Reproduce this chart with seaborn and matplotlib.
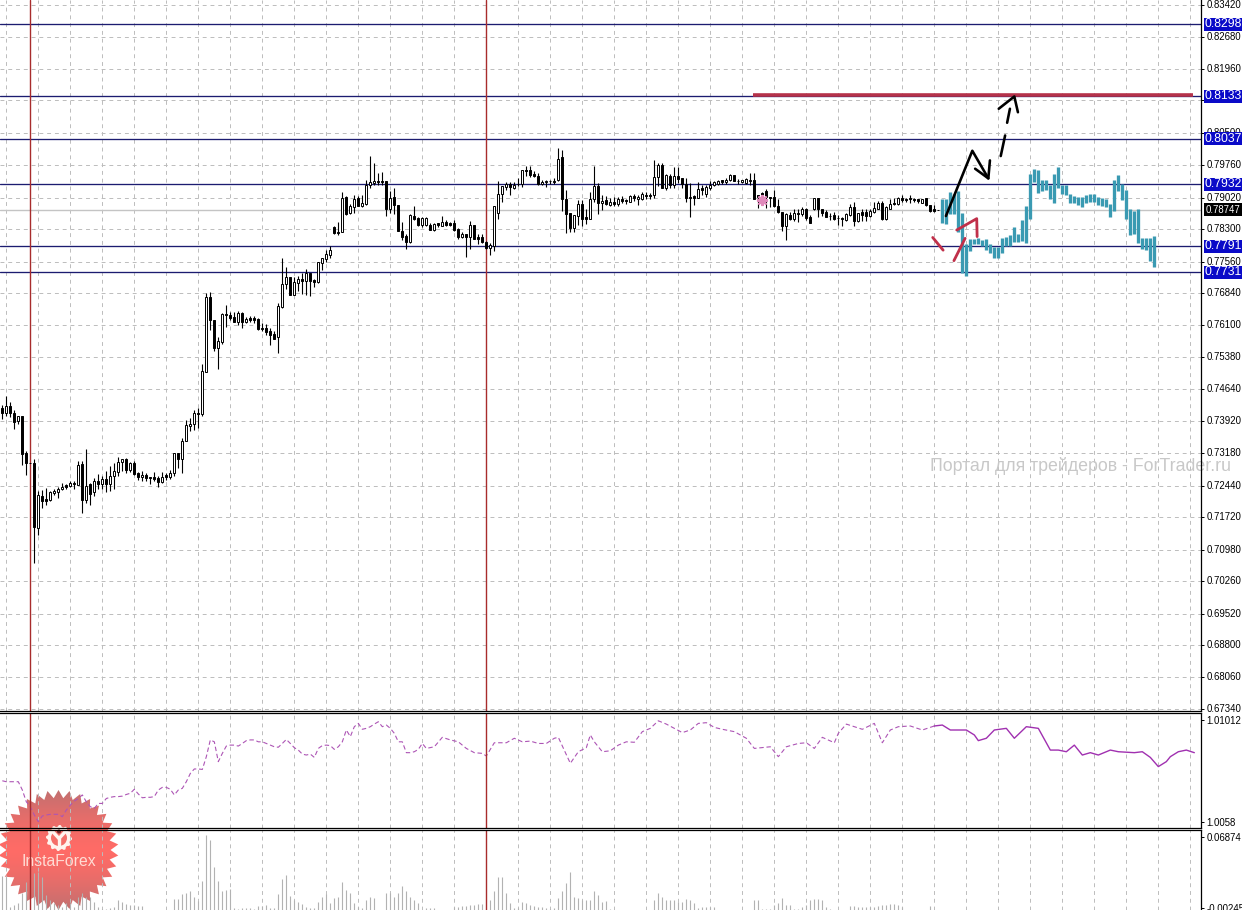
import numpy as np
import pandas as pd
import seaborn as sns
import matplotlib.pyplot as plt
from matplotlib.patches import Polygon, Rectangle, Circle
from matplotlib.transforms import blended_transform_factory, ScaledTranslation

# all prices in 1e-4 units, one entry per candle
candle_high = [
    7429, 7448, 7435, 7418, 7404, 7403, 7324, 7296, 7305, 7231,
    7234, 7239, 7232, 7237, 7242, 7251, 7249, 7254, 7254, 7300,
    7300, 7327, 7251, 7261, 7270, 7266, 7277, 7289, 7296, 7310,
    7306, 7307, 7299, 7300, 7275, 7278, 7272, 7263, 7275, 7266,
    7275, 7274, 7280, 7319, 7318, 7353, 7395, 7399, 7416, 7422,
    7521, 7684, 7686, 7623, 7584, 7638, 7657, 7641, 7641, 7644,
    7640, 7629, 7631, 7631, 7627, 7616, 7614, 7604, 7597, 7661,
    7765, 7744, 7720, 7720, 7723, 7729, 7740, 7730, 7717, 7754,
    7765, 7783, 7791, 7837, 7846, 7915, 7905, 7887, 7908, 7905,
    7908, 7943, 7997, 7981, 7959, 7961, 7939, 7916, 7925, 7886,
    7847, 7819, 7864, 7883, 7857, 7857, 7857, 7843, 7845, 7845,
    7860, 7852, 7846, 7851, 7832, 7823, 7819, 7848, 7840, 7820,
    7820, 7804, 7798, 7884, 7940, 7928, 7938, 7938, 7938, 7946,
    7966, 7975, 7975, 7962, 7959, 7942, 7942, 7943, 7946, 8016,
    8010, 7919, 7867, 7862, 7896, 7896, 7875, 7915, 7974, 7936,
    7908, 7905, 7902, 7904, 7904, 7905, 7898, 7907, 7911, 7909,
    7915, 7915, 7913, 7987, 7980, 7980, 7957, 7957, 7971, 7971,
    7947, 7946, 7936, 7908, 7937, 7930, 7930, 7940, 7940, 7942,
    7943, 7946, 7957, 7953, 7945, 7943, 7947, 7959, 7959, 7908,
    7915, 7921, 7903, 7919, 7898, 7870, 7867, 7870, 7877, 7877,
    7881, 7879, 7862, 7902, 7902, 7876, 7873, 7866, 7870, 7862,
    7858, 7867, 7887, 7892, 7867, 7875, 7877, 7875, 7892, 7895,
    7895, 7883, 7900, 7902, 7904, 7907, 7902, 7908, 7902, 7900,
    7900, 7901, 7886, 7885, 7874,
]
candle_top = [
    7422, 7427, 7427, 7410, 7404, 7403, 7318, 7296, 7296, 7223,
    7220, 7213, 7230, 7231, 7237, 7242, 7245, 7251, 7251, 7292,
    7293, 7243, 7247, 7254, 7254, 7260, 7260, 7266, 7277, 7299,
    7304, 7304, 7295, 7295, 7272, 7269, 7269, 7263, 7263, 7261,
    7264, 7268, 7274, 7318, 7318, 7347, 7382, 7386, 7410, 7410,
    7506, 7675, 7675, 7622, 7575, 7636, 7637, 7635, 7629, 7638,
    7638, 7625, 7627, 7628, 7625, 7605, 7604, 7597, 7591, 7655,
    7704, 7720, 7720, 7710, 7715, 7717, 7730, 7730, 7713, 7754,
    7763, 7774, 7782, 7834, 7824, 7902, 7904, 7883, 7898, 7901,
    7889, 7931, 7937, 7940, 7940, 7940, 7939, 7902, 7904, 7886,
    7826, 7814, 7863, 7861, 7855, 7855, 7855, 7839, 7842, 7843,
    7846, 7846, 7843, 7843, 7831, 7819, 7819, 7839, 7840, 7811,
    7811, 7801, 7793, 7884, 7910, 7928, 7933, 7933, 7930, 7934,
    7966, 7966, 7966, 7956, 7952, 7937, 7940, 7940, 7940, 7991,
    7994, 7899, 7866, 7862, 7887, 7887, 7857, 7900, 7928, 7928,
    7895, 7896, 7892, 7891, 7899, 7898, 7896, 7905, 7905, 7904,
    7911, 7908, 7908, 7948, 7976, 7976, 7953, 7951, 7951, 7951,
    7946, 7933, 7904, 7905, 7921, 7925, 7927, 7930, 7938, 7940,
    7942, 7942, 7954, 7953, 7941, 7942, 7944, 7943, 7942, 7908,
    7912, 7917, 7903, 7903, 7884, 7870, 7864, 7862, 7867, 7867,
    7877, 7877, 7858, 7901, 7901, 7875, 7869, 7861, 7862, 7856,
    7856, 7864, 7880, 7880, 7866, 7869, 7870, 7871, 7878, 7890,
    7890, 7881, 7887, 7889, 7902, 7902, 7899, 7901, 7900, 7898,
    7899, 7901, 7886, 7875, 7874,
]
candle_bottom = [
    7409, 7409, 7409, 7389, 7391, 7316, 7296, 7296, 7150, 7148,
    7209, 7209, 7211, 7228, 7230, 7236, 7242, 7243, 7247, 7246,
    7211, 7211, 7226, 7229, 7248, 7248, 7249, 7249, 7266, 7275,
    7298, 7280, 7280, 7271, 7263, 7263, 7261, 7262, 7260, 7252,
    7252, 7265, 7265, 7272, 7304, 7304, 7346, 7380, 7385, 7407,
    7407, 7503, 7622, 7558, 7559, 7573, 7634, 7628, 7619, 7617,
    7617, 7617, 7623, 7623, 7602, 7602, 7594, 7589, 7579, 7584,
    7653, 7704, 7680, 7679, 7708, 7712, 7711, 7712, 7710, 7709,
    7753, 7762, 7772, 7821, 7821, 7824, 7864, 7866, 7881, 7883,
    7883, 7887, 7931, 7936, 7937, 7937, 7877, 7877, 7885, 7826,
    7811, 7801, 7801, 7854, 7839, 7839, 7839, 7829, 7828, 7839,
    7837, 7840, 7840, 7828, 7811, 7811, 7811, 7811, 7808, 7808,
    7801, 7786, 7786, 7791, 7867, 7910, 7927, 7927, 7923, 7932,
    7933, 7963, 7953, 7952, 7933, 7934, 7938, 7939, 7937, 7942,
    7899, 7864, 7832, 7832, 7861, 7854, 7854, 7854, 7900, 7889,
    7890, 7887, 7886, 7887, 7887, 7895, 7894, 7893, 7901, 7899,
    7899, 7905, 7905, 7908, 7949, 7925, 7923, 7930, 7930, 7945,
    7934, 7901, 7902, 7902, 7902, 7919, 7911, 7925, 7930, 7933,
    7937, 7938, 7942, 7940, 7940, 7938, 7936, 7940, 7900, 7904,
    7904, 7904, 7901, 7883, 7869, 7838, 7838, 7854, 7854, 7865,
    7864, 7855, 7845, 7875, 7875, 7867, 7858, 7860, 7854, 7855,
    7854, 7851, 7862, 7848, 7848, 7863, 7860, 7860, 7869, 7877,
    7854, 7854, 7877, 7888, 7887, 7896, 7896, 7898, 7896, 7895,
    7890, 7885, 7872, 7872, 7873,
]
candle_low = [
    7397, 7404, 7401, 7374, 7384, 7292, 7269, 7296, 7068, 7132,
    7194, 7201, 7209, 7222, 7217, 7234, 7237, 7242, 7237, 7245,
    7182, 7204, 7199, 7220, 7236, 7236, 7230, 7231, 7236, 7267,
    7277, 7274, 7275, 7268, 7257, 7255, 7254, 7249, 7255, 7242,
    7251, 7257, 7260, 7266, 7285, 7272, 7346, 7368, 7372, 7376,
    7403, 7503, 7600, 7551, 7511, 7568, 7606, 7622, 7617, 7610,
    7605, 7616, 7619, 7616, 7600, 7597, 7589, 7566, 7578, 7546,
    7651, 7694, 7680, 7679, 7689, 7683, 7679, 7678, 7698, 7707,
    7736, 7755, 7763, 7820, 7816, 7824, 7863, 7864, 7867, 7883,
    7880, 7886, 7925, 7930, 7930, 7930, 7860, 7866, 7864, 7826,
    7805, 7785, 7798, 7852, 7837, 7835, 7837, 7828, 7826, 7834,
    7837, 7838, 7838, 7826, 7807, 7809, 7767, 7784, 7807, 7797,
    7799, 7784, 7772, 7781, 7854, 7892, 7919, 7908, 7921, 7928,
    7927, 7951, 7949, 7948, 7930, 7930, 7927, 7932, 7932, 7940,
    7872, 7822, 7824, 7824, 7839, 7837, 7842, 7854, 7892, 7864,
    7873, 7885, 7883, 7883, 7883, 7890, 7887, 7892, 7895, 7886,
    7896, 7898, 7898, 7901, 7928, 7923, 7919, 7925, 7923, 7936,
    7925, 7893, 7857, 7885, 7901, 7908, 7904, 7919, 7928, 7930,
    7933, 7934, 7940, 7940, 7933, 7936, 7934, 7930, 7900, 7878,
    7887, 7878, 7880, 7880, 7867, 7826, 7805, 7851, 7849, 7847,
    7861, 7852, 7845, 7873, 7858, 7860, 7857, 7851, 7851, 7839,
    7837, 7849, 7860, 7837, 7846, 7849, 7849, 7857, 7867, 7875,
    7852, 7852, 7875, 7885, 7886, 7892, 7893, 7889, 7892, 7890,
    7889, 7883, 7870, 7870, 7873,
]
candle_up = [
    0, 1, 0, 0, 1, 0, 0, 0, 0, 1,
    0, 0, 1, 1, 1, 1, 0, 1, 0, 1,
    0, 1, 0, 1, 0, 1, 0, 1, 1, 1,
    1, 0, 1, 0, 0, 1, 0, 0, 0, 0,
    1, 0, 1, 1, 0, 1, 1, 1, 1, 0,
    1, 1, 0, 0, 1, 1, 0, 0, 0, 1,
    0, 1, 0, 0, 0, 0, 0, 0, 0, 1,
    1, 1, 0, 1, 1, 0, 1, 0, 0, 1,
    1, 1, 1, 0, 0, 1, 0, 1, 1, 0,
    1, 1, 1, 1, 0, 0, 0, 1, 0, 0,
    0, 0, 1, 0, 0, 1, 1, 0, 1, 0,
    1, 0, 0, 0, 0, 1, 0, 1, 0, 0,
    0, 0, 1, 1, 1, 1, 1, 0, 1, 0,
    1, 0, 0, 0, 0, 1, 1, 0, 0, 1,
    0, 0, 0, 1, 1, 0, 0, 1, 1, 0,
    1, 0, 1, 0, 1, 0, 0, 1, 0, 1,
    1, 0, 0, 1, 1, 0, 1, 0, 1, 0,
    0, 0, 0, 0, 1, 0, 1, 1, 1, 1,
    0, 1, 1, 0, 0, 1, 1, 1, 0, 0,
    0, 0, 0, 0, 0, 0, 1, 0, 1, 0,
    1, 0, 0, 1, 0, 0, 0, 0, 0, 0,
    0, 1, 1, 0, 1, 0, 0, 1, 1, 1,
    0, 1, 1, 0, 1, 0, 0, 0, 0, 0,
    1, 0, 0, 0, 0,
]

# the teal high/low bars continue right after the last candle
bar_high = [
    7900, 7900, 7914, 7911, 7917, 7867, 7797, 7807, 7807, 7809,
    7805, 7808, 7796, 7790, 7790, 7809, 7811, 7816, 7834, 7820,
    7851, 7884, 7957, 7968, 7966, 7942, 7942, 7930, 7957, 7971,
    7930, 7930, 7911, 7905, 7904, 7904, 7908, 7911, 7911, 7904,
    7902, 7900, 7887, 7942, 7953, 7934, 7919, 7877, 7872, 7877,
    7809, 7809, 7809, 7814,
]
bar_low = [
    7845, 7842, 7864, 7864, 7824, 7729, 7723, 7779, 7797, 7797,
    7791, 7782, 7775, 7764, 7764, 7775, 7791, 7792, 7801, 7801,
    7802, 7799, 7854, 7938, 7913, 7918, 7919, 7900, 7890, 7923,
    7910, 7908, 7889, 7889, 7886, 7881, 7890, 7892, 7892, 7885,
    7883, 7881, 7857, 7872, 7918, 7896, 7854, 7816, 7820, 7799,
    7784, 7782, 7758, 7743,
]

# horizontal levels
level_values = [0.8298, 0.8133, 0.8037, 0.7932, 0.7791, 0.7731]
level_labels = ["0.8298", "0.8133", "0.8037", "0.7932", "0.7791", "0.7731"]
last_price = 0.78747
target_price = 0.8137
target_span = [187.7, 297.7]
event_candles = [7, 121]
star_point = [189.9, 0.7897]

price_ticks = [
    0.83420, 0.82680, 0.81960, 0.81240, 0.80500, 0.79760, 0.79020, 0.78300,
    0.77560, 0.76840, 0.76100, 0.75380, 0.74640, 0.73920, 0.73180, 0.72440,
    0.71720, 0.70980, 0.70260, 0.69520, 0.68800, 0.68060, 0.67340,
]
price_tick_labels = [
    "0.83420", "0.82680", "0.81960", "", "0.80500", "0.79760", "0.79020", "0.78300",
    "0.77560", "0.76840", "0.76100", "0.75380", "0.74640", "0.73920", "0.73180", "0.72440",
    "0.71720", "0.70980", "0.70260", "0.69520", "0.68800", "0.68060", "0.67340",
]

# hand drawn strokes on the chart: candle position, price in 1e-4 units
black_strokes = [
    ([235.9, 242.5, 246.5], [7860, 8009, 7946]),
    ([243.2, 246.5, 246.9], [7968, 7946, 7987]),
    ([249.6, 250.7], [7997, 8044]),
    ([251.2, 251.9], [8073, 8105]),
    ([249.1, 253.0, 253.9], [8105, 8133, 8097]),
]
red_strokes = [
    ([232.6, 235.2], [7811, 7782]),
    ([237.9, 240.7], [7758, 7809]),
    ([238.6, 243.6, 243.7], [7828, 7854, 7813]),
]

# middle pane, 1e-5 units, first part is one value per candle
indicator_head = [
    100755, 100751, 100751, 100751, 100751, 100716, 100666, 100645, 100610, 100582,
    100606, 100610, 100613, 100613, 100613, 100603, 100631, 100652, 100669, 100680,
    100695, 100666, 100645, 100638, 100659, 100659, 100680, 100685, 100688, 100688,
    100690, 100697, 100702, 100719, 100699, 100683, 100685, 100685, 100688, 100716,
    100727, 100727, 100719, 100695, 100716, 100723, 100751, 100786, 100805, 100805,
    100803, 100857, 100928, 100920, 100836, 100871, 100902, 100906, 100906, 100902,
    100913, 100925, 100928, 100928, 100920, 100920, 100913, 100906, 100899, 100897,
    100913, 100930, 100913, 100895, 100885, 100868, 100864, 100868, 100854, 100892,
    100904, 100906, 100904, 100888, 100899, 100920, 100970, 100942, 100984, 100998,
    100973, 100977, 100984, 100995, 101005, 100984, 100991, 100977, 100956, 100920,
    100920, 100874, 100874, 100878, 100888, 100913,
]
indicator_tail_pos = [
    106, 108, 110, 112, 114, 116, 118, 120, 121, 123, 126, 128, 130, 132, 134, 136, 138, 139,
    142, 144, 146, 147, 148, 150, 152, 154, 156, 158, 160, 162, 164, 166, 168, 170, 172, 174,
    176, 178, 180, 183, 186, 188, 192, 194, 196, 199, 201, 203, 205, 208, 209, 211, 213, 215,
    218, 220, 222, 224, 227, 230, 233, 235, 237, 241, 243, 244, 246, 248, 251, 253, 256, 259,
    262, 264, 266, 268, 270, 272, 274, 277, 279, 283, 285, 287, 289, 291, 292, 294, 296, 298,
]
indicator_tail = [
    100892, 100899, 100939, 100928, 100920, 100892, 100874, 100871, 100860, 100916, 100916, 100935,
    100920, 100923, 100913, 100913, 100935, 100939, 100829, 100878, 100895, 100949, 100920, 100878,
    100882, 100906, 100920, 100918, 100963, 100977, 101009, 100995, 100977, 100959, 100970, 100998,
    101001, 100981, 100973, 100963, 100935, 100892, 100899, 100857, 100899, 100913, 100916, 100892,
    100939, 100916, 100956, 100995, 100984, 100973, 100998, 100916, 100970, 100984, 100987, 100970,
    100987, 100991, 100970, 100970, 100949, 100925, 100935, 100970, 100977, 100935, 100984, 100977,
    100885, 100885, 100878, 100906, 100864, 100874, 100864, 100885, 100878, 100874, 100878, 100854,
    100815, 100836, 100857, 100878, 100885, 100874,
]
solid_from = 233

# bottom pane, 1e-3 units
volume_head = [
    29.6, 29.0, -1.1, 0.6, 2.2, 12.3, 23.9, 32.3, 32.3, 34.0,
    29.0, 10.6, 5.6, 2.2, 0.6, -1.1, 2.2, 2.2, -1.1, 8.9,
    12.3, 8.9, 8.9, 3.9, -1.1, -3.8, -3.8, -2.8, -1.1, 5.6,
    3.9, 1.6, 0.6, 0.6, -0.4, -0.4, -4.5, -4.5, -4.5, -4.5,
    -4.5, -4.5, -4.5, 6.2, 6.2, 11.6, 12.9, 14.9, 8.9, 4.9,
    24.6, 70.7, 65.7, 39.0, 24.9, 14.9, 15.6, 16.9, -2.8, -3.1,
    -2.8, -2.4, -2.4, -3.8, -0.4, -0.4, 0.6, -2.8, -2.8, 11.6,
    26.6, 31.0, 9.6, 5.6, 3.9, 1.6, -1.1, -2.8, -2.8, 3.9,
    8.9, 11.6, 2.2, 7.2, 8.2, 23.6, 15.6, 12.3, 2.2, -1.1,
    -2.8, 5.6, 8.2, 7.2, -4.5, -4.5, 12.3, 12.3, 8.9, 12.3,
    19.6, 14.9, 8.9, 5.6, 2.2,
]
volume_tail_pos = [
    106, 107, 108, 113, 114, 115, 116, 117, 118, 119, 120, 122, 123, 124, 125, 126, 127, 128,
    129, 130, 131, 132, 133, 134, 135, 136, 137, 138, 139, 140, 141, 142, 143, 144, 145, 146,
    147, 148, 149, 150, 151, 152, 163, 164, 165, 166, 167, 168, 169, 170, 171, 172, 173, 174,
    175, 176, 177, 178, 188, 189, 190, 191, 192, 193, 194, 195, 196, 197, 198, 199, 200, 201,
    202, 203, 204, 205, 206, 207, 212, 213, 214, 215, 216, 217, 218, 219, 220, 221, 222, 223,
    224, 225, 232,
]
volume_tail = [
    -2.8, -2.8, -2.8, -1.1, -1.1, -0.4, -0.4, 0.2, 0.6, 1.6, 1.6, 5.6, 14.9, 29.0, 29.0, 12.9, 2.2, -2.8,
    -2.1, 3.9, 2.9, 0.6, 0.0, -1.1, -1.8, -2.8, -3.8, -2.8, 7.2, 14.9, 23.0, 33.7, 8.9, 7.2, 5.6, 5.6,
    5.6, 14.9, 10.6, 3.9, 4.6, -3.8, 5.6, 12.9, 8.9, 5.6, 5.6, 5.6, 3.9, 3.9, 6.6, 5.6, 2.2, -2.8,
    -1.8, -1.8, -1.1, -1.1, 5.6, 5.6, -3.8, -3.8, -3.8, 0.6, 2.2, 8.0, 0.6, 0.6, -3.8, -3.8, -1.1, 0.6,
    5.6, 6.6, 6.6, 5.6, -1.1, -3.8, -0.4, -0.4, -1.1, -1.8, -1.8, -1.8, -1.8, -0.4, 0.6, 0.9, 1.6, 1.6,
    0.9, -1.8, -0.4,
]

W, H = 1242, 910
AXIS_PX = 1201
PX = 72 / 100  # one pixel in points
PRICE_LIM = (0.67294, 0.83534)
GRID = dict(color="#bcbcbc", lw=0.7, ls=(0, (4, 4)))


def pane(fig, top, bottom):
    return fig.add_axes([0, 1 - bottom / H, AXIS_PX / W, (bottom - top) / H], zorder=2, facecolor="none")


def draw_seal(bg):
    # stamp in the lower left corner, sits under the panes
    cx, cy, outer, inner = 58.5, 850, 60, 52
    n = 34
    angles = np.linspace(0, 2 * np.pi, 2 * n, endpoint=False)
    radii = np.where(np.arange(2 * n) % 2 == 0, outer, inner)
    star = np.column_stack([cx + radii * np.sin(angles), cy - radii * np.cos(angles)])
    shape = Polygon(star, closed=True, transform=bg.transData, fc="none", ec="none")
    bg.add_patch(shape)
    t = np.linspace(-1, 1, 120)[:, None]
    shade = np.abs(t) ** 1.4
    rgb = np.dstack([1.0 - 0.24 * shade, 0.42 + 0.02 * shade, 0.40 + 0.04 * shade])
    img = bg.imshow(rgb, extent=[cx - outer, cx + outer, cy + outer, cy - outer], aspect="auto", zorder=1)
    img.set_clip_path(shape)

    # gear
    n_teeth = 12
    a = np.linspace(0, 2 * np.pi, 4 * n_teeth, endpoint=False)
    r = np.where(np.arange(4 * n_teeth) % 4 < 2, 13, 11.3)
    bg.add_patch(Polygon(np.column_stack([59 + r * np.sin(a), 838 - r * np.cos(a)]), fc="#fff4ee", ec="none", zorder=2))
    bg.add_patch(Circle((59, 838), 8, fc="#f46e68", ec="none", zorder=3))
    bg.plot([59, 59], [838, 849], color="#fff4ee", lw=2.4, zorder=4, solid_capstyle="butt")
    bg.plot([53, 59, 65], [832, 838.5, 832], color="#fff4ee", lw=2.4, zorder=4)
    bg.add_patch(Circle((59, 831.5), 2, fc="#7a3030", ec="none", zorder=4))
    bg.text(59, 861.5, "InstaForex", color="#ffdcd4", fontsize=11.3, ha="center", va="center", zorder=5)


def main():
    sns.set_style("white")
    plt.rcParams["font.family"] = ["Liberation Sans", "DejaVu Sans"]

    fig = plt.figure(figsize=(W / 100, H / 100), dpi=100, facecolor="white")

    bg = fig.add_axes([0, 0, 1, 1], zorder=0)
    bg.set_xlim(0, W)
    bg.set_ylim(H, 0)
    bg.axis("off")
    draw_seal(bg)

    ax = pane(fig, 0, 711)
    ax_ind = pane(fig, 713, 828)
    ax_vol = pane(fig, 830, H)

    xlim = (-0.58, (AXIS_PX - 2.33) / 4)
    grid_pos = np.arange(1, 300, 8)

    for a in (ax, ax_ind, ax_vol):
        a.set_xlim(xlim)
        a.set_xticks(grid_pos)
        a.tick_params(axis="x", length=0, labelbottom=False)
        a.set_axisbelow(True)
        a.grid(True, axis="x", **GRID)
        for s in ("left", "top", "bottom", "right"):
            a.spines[s].set_visible(True)
            a.spines[s].set_color("black")
            a.spines[s].set_linewidth(0.9)
        a.spines["left"].set_visible(False)
        a.yaxis.tick_right()
        a.tick_params(axis="y", length=2.5, width=0.7, pad=1.5, labelsize=6.9, colors="black", right=True)
        for k in event_candles:
            a.axvline(k, color="#a82c2c", lw=1.0, zorder=2.2)

    ax.spines["top"].set_visible(False)
    ax_vol.spines["bottom"].set_visible(False)

    # main pane
    ax.set_ylim(PRICE_LIM)
    ax.set_yticks(price_ticks)
    ax.set_yticklabels(price_tick_labels)
    ax.grid(True, axis="y", **GRID)
    # labels sit a pixel above their grid lines
    lift = ScaledTranslation(0, 1 / 100, fig.dpi_scale_trans)
    for lab in ax.get_yticklabels():
        lab.set_transform(lab.get_transform() + lift)

    candles = pd.DataFrame(
        {
            "high": np.array(candle_high) / 1e4,
            "top": np.array(candle_top) / 1e4,
            "bottom": np.array(candle_bottom) / 1e4,
            "low": np.array(candle_low) / 1e4,
            "up": candle_up,
        }
    )
    candles["pos"] = np.arange(len(candles))

    # levels, last price, target line
    for v in level_values:
        ax.axhline(v, color="#1c1c70", lw=0.95, zorder=1.8)
    ax.axhline(last_price, color="#c4c4c4", lw=1.0, zorder=1.7)

    ax.vlines(candles["pos"], candles["low"], candles["high"], color="black", lw=0.8, zorder=3)
    ax.bar(
        candles["pos"],
        candles["top"] - candles["bottom"],
        bottom=candles["bottom"],
        width=0.55,
        color=["white" if u else "black" for u in candles["up"]],
        edgecolor="black",
        linewidth=0.7,
        zorder=3.2,
    )

    bars_x = np.arange(len(bar_high)) + len(candles)
    ax.vlines(
        bars_x,
        np.array(bar_low) / 1e4,
        np.array(bar_high) / 1e4,
        color="#3a9ab2",
        lw=3.3 * PX,
        capstyle="butt",
        zorder=3,
    )

    ax.plot(target_span, [target_price, target_price], color="#b5324a", lw=3.6 * PX, solid_capstyle="butt", zorder=4)

    for xs, ys in black_strokes:
        ax.plot(xs, np.array(ys) / 1e4, color="black", lw=2.6 * PX, zorder=5)
    for xs, ys in red_strokes:
        ax.plot(xs, np.array(ys) / 1e4, color="#c0304a", lw=2.8 * PX, zorder=5)

    ax.plot(
        [star_point[0]],
        [star_point[1]],
        marker=(8, 2, 0),
        ms=8,
        mew=1.5,
        color="#e08abb",
        ls="none",
        zorder=6,
    )

    ax.text(
        1081,
        466,
        "Портал для трейдеров - ForTrader.ru",
        transform=bg.transData,
        color="#c8c8c8",
        fontsize=12.8,
        ha="center",
        va="center",
        zorder=2,
    )

    # price boxes on the right
    tr = blended_transform_factory(ax.transAxes, ax.transData)
    box_x = 1204 / AXIS_PX
    box_w = (W - 1204) / AXIS_PX
    box_h = 13 * (PRICE_LIM[1] - PRICE_LIM[0]) / 711
    for v, lab in zip(level_values, level_labels):
        ax.add_patch(
            Rectangle((box_x, v - box_h / 2), box_w, box_h, transform=tr, fc="#0a0ac8", ec="none", clip_on=False, zorder=7)
        )
        ax.text(1223.5 / AXIS_PX, v, lab, transform=tr, color="white", fontsize=8.7, ha="center", va="center", zorder=8)
    ax.add_patch(
        Rectangle((box_x, last_price - box_h / 2), box_w, box_h, transform=tr, fc="black", ec="none", clip_on=False, zorder=7)
    )
    ax.text(1223 / AXIS_PX, last_price, "0.78747", transform=tr, color="white", fontsize=6.9, ha="center", va="center", zorder=8)

    # indicator pane
    ind = pd.DataFrame(
        {
            "pos": list(range(len(indicator_head))) + indicator_tail_pos,
            "value": (np.array(indicator_head + indicator_tail)) / 1e5,
        }
    )
    dashed = ind[ind["pos"] <= solid_from]
    solid = ind[ind["pos"] >= solid_from]
    sns.lineplot(data=dashed, x="pos", y="value", ax=ax_ind, color="#ad55b5", lw=0.8, estimator=None, linestyle=(0, (4, 2.5)))
    sns.lineplot(data=solid, x="pos", y="value", ax=ax_ind, color="#a030b0", lw=1.0, estimator=None)
    ax_ind.set(xlabel=None, ylabel=None)
    ax_ind.set_xlim(xlim)
    ax_ind.set_ylim(1.00555, 1.01042)
    ax_ind.set_yticks([1.01012, 1.0058])
    ax_ind.set_yticklabels(["1.01012", "1.0058"])

    # histogram pane, bars start at the pane edge
    vol_bottom = -0.00446
    vol_pos = list(range(len(volume_head))) + volume_tail_pos
    vol_val = np.array(volume_head + volume_tail) / 1e3
    ax_vol.vlines(vol_pos, vol_bottom, vol_val, color="#b2b2b2", lw=0.8, zorder=2)
    ax_vol.set_ylim(vol_bottom, 0.07576)
    ax_vol.set_yticks([0.06874, -0.00245])
    ax_vol.set_yticklabels(["0.06874", "-0.00245"])

    fig.savefig("out.png", dpi=100)


if __name__ == "__main__":
    main()
